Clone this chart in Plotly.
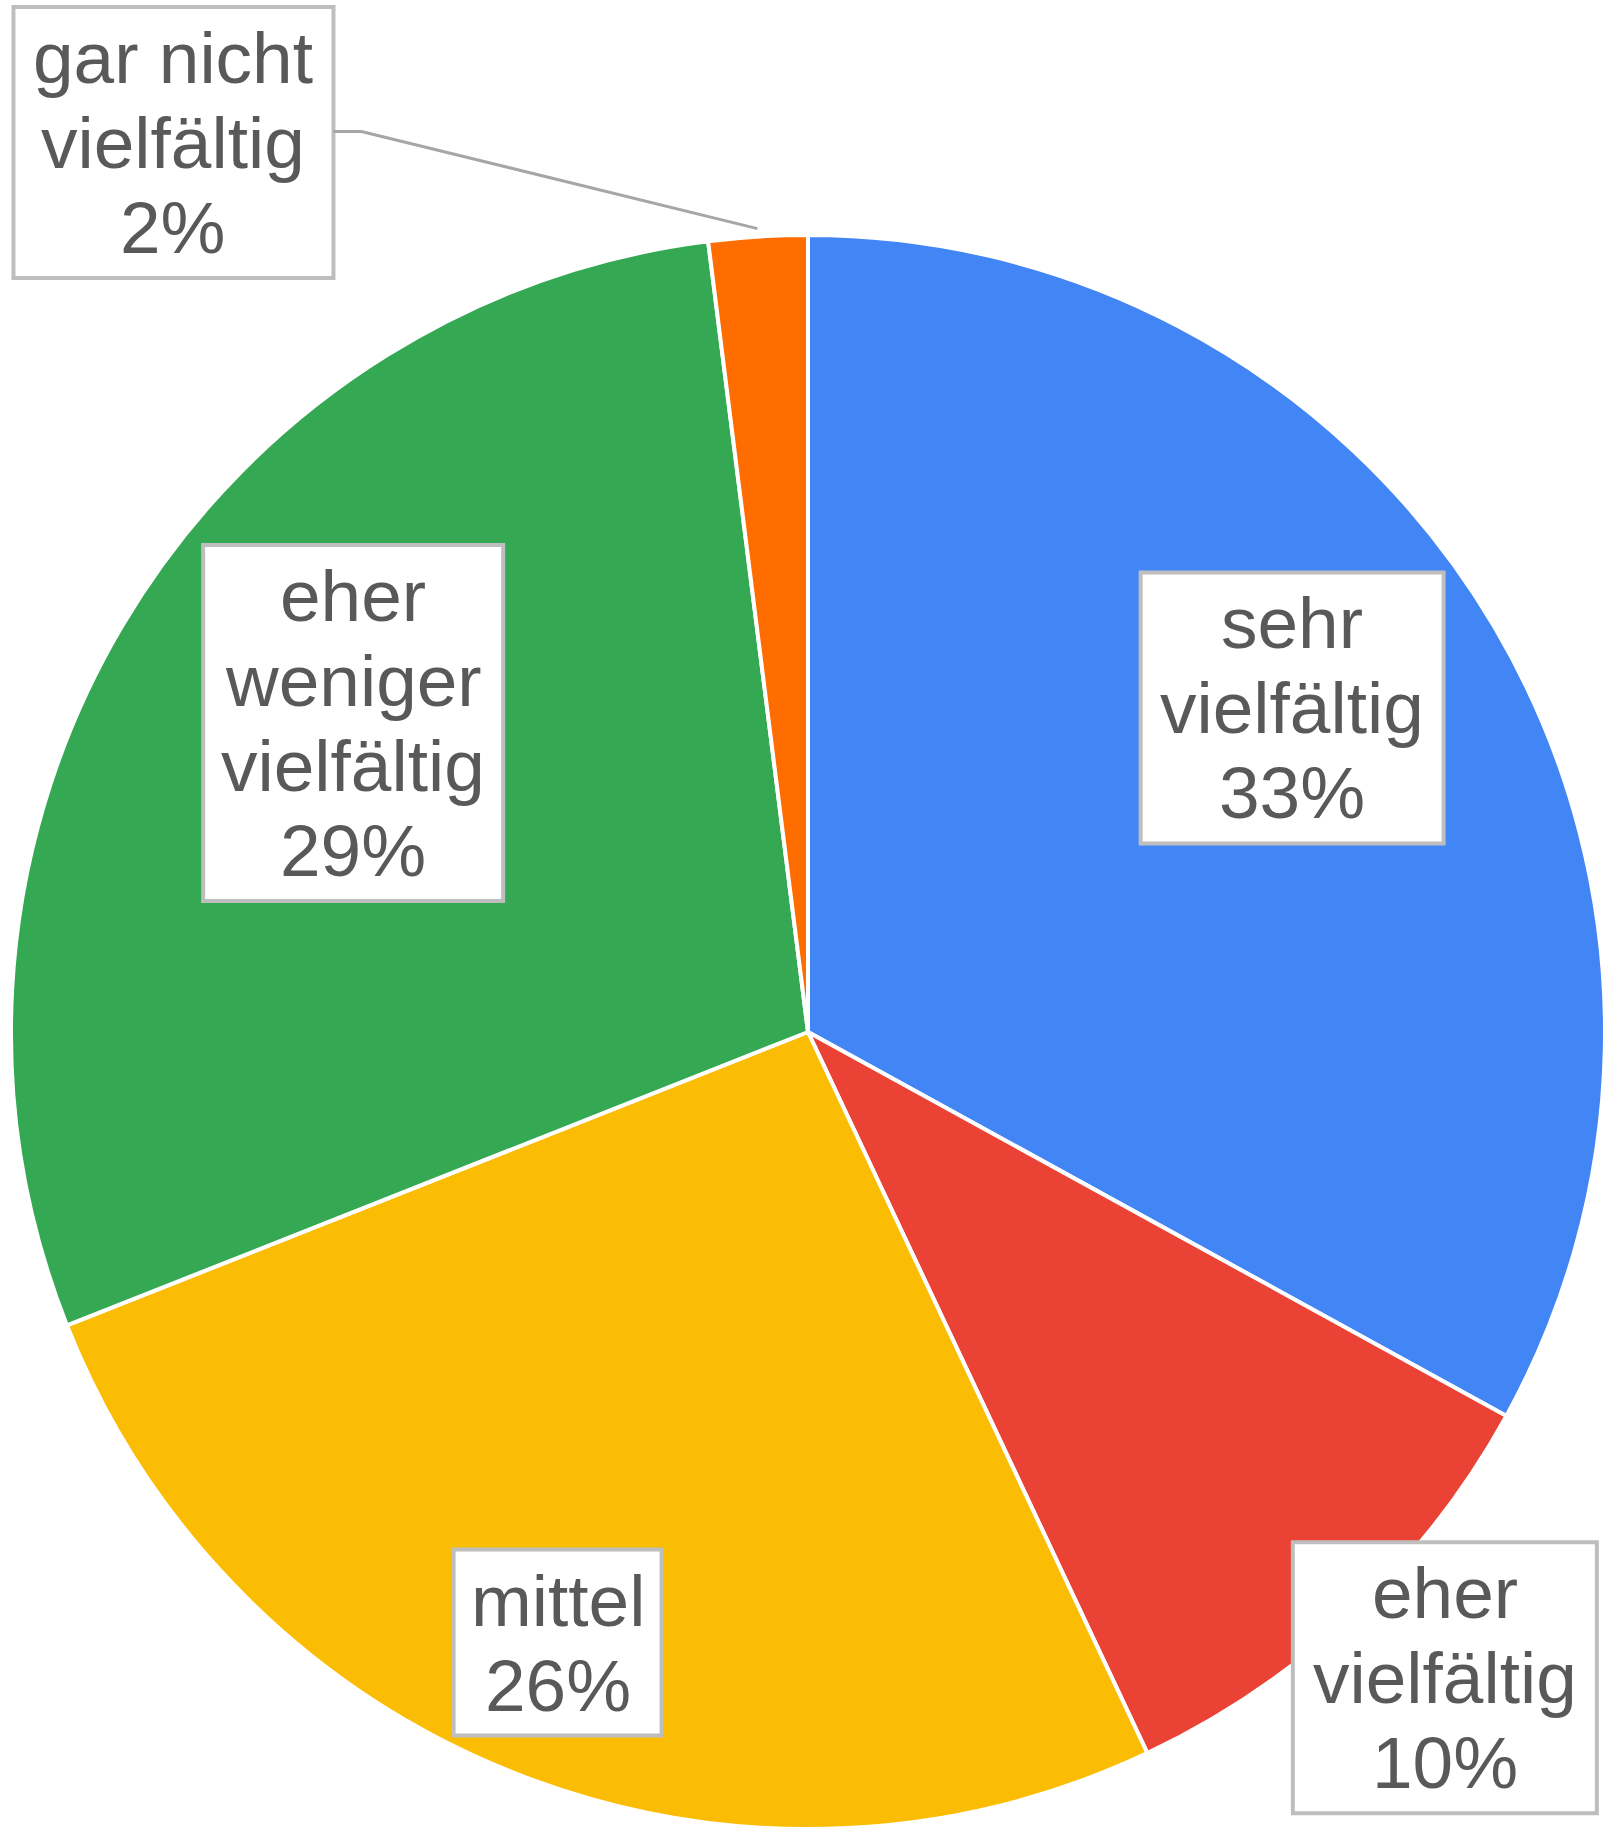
import math
import plotly.graph_objects as go

# ---- data ----
categories = ["sehr vielfältig", "eher vielfältig", "mittel",
              "eher weniger vielfältig", "gar nicht vielfältig"]
values = [33, 10, 26, 29, 2]
label_lines = [["sehr", "vielfältig"], ["eher", "vielfältig"], ["mittel"],
               ["eher", "weniger", "vielfältig"], ["gar nicht", "vielfältig"]]
colors = ["#4285F4", "#EA4335", "#FBBC04", "#34A853", "#FF6D01"]

# ---- style ----
W, H = 1606, 1829
dom_x = [10 / W, 1.0]
dom_y = [0.0, 1 - 235 / H]
label_frac = [0.731, 1.138, 0.828, 0.690, 1.371]     # radial position of label boxes
label_dang = [-3.2, -1.4, 0.7, 3.6, -31.9]           # angular offset (deg) of label boxes
box_w = [303, 304, 208, 300, 320]
line_h = 85
box_pad = 8
font_size = 73
text_color = "#595959"
border_color = "#BEBEBE"

fig = go.Figure(go.Pie(
    labels=categories, values=values, sort=False, direction="clockwise",
    rotation=0, marker=dict(colors=colors, line=dict(color="white", width=4)),
    textinfo="none", domain=dict(x=dom_x, y=dom_y), showlegend=False,
    hoverinfo="label+percent",
))

# pie geometry in pixels (margins are zero)
cx = (dom_x[0] + dom_x[1]) / 2 * W
cy = H - (dom_y[0] + dom_y[1]) / 2 * H
r = min((dom_x[1] - dom_x[0]) * W, (dom_y[1] - dom_y[0]) * H) / 2

def px2paper(x, y):
    return x / W, 1 - y / H

total = sum(values)
cum = 0
shapes, annotations = [], []
for i, v in enumerate(values):
    start = cum / total * 360
    cum += v
    end = cum / total * 360
    mid = (start + end) / 2
    pct = f"{round(v / total * 100)}%"
    lines = label_lines[i] + [pct]
    ang = math.radians(mid + label_dang[i])
    bx = cx + label_frac[i] * r * math.sin(ang)
    by = cy - label_frac[i] * r * math.cos(ang)
    bh = len(lines) * line_h + 2 * box_pad
    x0, x1 = bx - box_w[i] / 2, bx + box_w[i] / 2
    y0, y1 = by - bh / 2, by + bh / 2
    p0 = px2paper(x0, y0)
    p1 = px2paper(x1, y1)
    shapes.append(dict(type="rect", xref="paper", yref="paper",
                       x0=p0[0], x1=p1[0], y0=p1[1], y1=p0[1],
                       fillcolor="white", line=dict(color=border_color, width=4),
                       layer="above"))
    for j, t in enumerate(lines):
        ly = y0 + box_pad + line_h * (j + 0.5)
        ax_, ay_ = px2paper(bx, ly)
        annotations.append(dict(x=ax_, y=ay_, xref="paper", yref="paper",
                                text=t, showarrow=False, xanchor="center",
                                yanchor="middle",
                                font=dict(family="Liberation Sans, Arial",
                                          size=font_size, color=text_color)))
    if label_frac[i] > 1.2:
        # leader line from box edge to the slice
        ma = math.radians(mid)
        ex = cx + 1.01 * r * math.sin(ma)
        ey = cy - 1.01 * r * math.cos(ma)
        sx, sy = x1, by - 11
        kx = sx + 28
        pts = [px2paper(sx, sy), px2paper(kx, sy), px2paper(ex, ey)]
        path = "M {} {} L {} {} L {} {}".format(*[c for p in pts for c in p])
        shapes.append(dict(type="path", xref="paper", yref="paper", path=path,
                           line=dict(color="#A6A6A6", width=3), layer="above"))

fig.update_layout(
    width=W, height=H, margin=dict(l=0, r=0, t=0, b=0),
    paper_bgcolor="white", plot_bgcolor="white",
    shapes=shapes, annotations=annotations,
)
fig.write_html(
    "out.html",
    config={"displayModeBar": False},
    post_script="document.body.style.margin='0';document.body.style.overflow='hidden';",
)
